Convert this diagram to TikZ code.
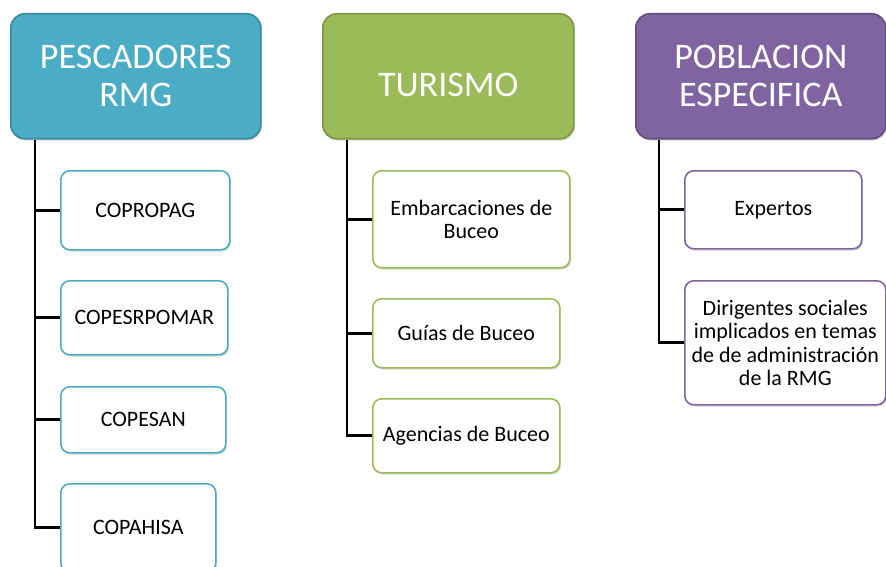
\documentclass[tikz,border=0pt]{standalone}
\usepackage{fontspec}
\setmainfont{Carlito}
\usepackage{tikz}
\usetikzlibrary{shadows,positioning}

\definecolor{rmgaqua}{HTML}{4BACC6}
\definecolor{rmgaquadark}{HTML}{3A8AA0}
\definecolor{rmggreen}{HTML}{9BBB59}
\definecolor{rmggreendark}{HTML}{7A9844}
\definecolor{rmgpurple}{HTML}{8064A2}
\definecolor{rmgpurpledark}{HTML}{634C80}

\begin{document}
\begin{tikzpicture}[x=1pt,y=-1pt]
  \tikzstyle{softshadow}=[drop shadow={opacity=0.3,shadow xshift=1.2pt,shadow yshift=-1.8pt}]
  \tikzstyle{grouphead}=[draw,rounded corners=14pt,line width=1.6pt,anchor=north west,
    minimum width=250pt,minimum height=125pt,text=white,align=center,
    font=\fontsize{36}{38}\selectfont,softshadow]
  \tikzstyle{member}=[draw,fill=white,rounded corners=9pt,line width=1.6pt,anchor=north west,
    inner sep=2pt,align=center,font=\fontsize{22}{23.5}\selectfont,softshadow]
  \tikzstyle{branch}=[line width=2.8pt]

  \useasboundingbox (0,0) rectangle (886,567);

  % group heads
  \node [grouphead,fill=rmgaqua,draw=rmgaquadark] (pescadores) at (10,13) {PESCADORES\\RMG};
  \node [grouphead,fill=rmggreen,draw=rmggreendark,minimum width=251pt] (turismo) at (322,13) {\raisebox{-20.5pt}[0pt][0pt]{TURISMO}};
  \node [grouphead,fill=rmgpurple,draw=rmgpurpledark] (poblacion) at (635,13) {POBLACION\\ESPECIFICA};

  % pescadores
  \node [member,draw=rmgaqua,minimum width=169pt,minimum height=79pt] (copropag) at (60,170) {COPROPAG};
  \node [member,draw=rmgaqua,minimum width=167pt,minimum height=74pt] (copesrpomar) at (60,280) {COPESRPOMAR};
  \node [member,draw=rmgaqua,minimum width=165pt,minimum height=66pt] (copesan) at (60,386) {COPESAN};
  \node [member,draw=rmgaqua,minimum width=155pt,minimum height=88pt] (copahisa) at (60,483) {COPAHISA};

  % turismo
  \node [member,draw=rmggreen,minimum width=197pt,minimum height=97pt] (embarcaciones) at (372,170) {Embarcaciones de\\Buceo};
  \node [member,draw=rmggreen,minimum width=187pt,minimum height=69pt] (guias) at (372,298) {Guías de Buceo};
  \node [member,draw=rmggreen,minimum width=187pt,minimum height=74pt] (agencias) at (372,398) {Agencias de Buceo};

  % poblacion especifica
  \node [member,draw=rmgpurple,minimum width=177pt,minimum height=78pt] (expertos) at (684,170) {Expertos};
  \node [member,draw=rmgpurple,minimum width=201pt,minimum height=124pt] (dirigentes) at (684,280) {Dirigentes sociales\\implicados en temas\\de de administración\\de la RMG};

  % trunks
  \coordinate (pesctrunk) at ([xshift=25pt]pescadores.south west);
  \coordinate (turtrunk) at ([xshift=25pt]turismo.south west);
  \coordinate (pobtrunk) at ([xshift=24pt]poblacion.south west);

  \draw [branch] (pesctrunk) |- (copahisa.west);
  \draw [branch] (pesctrunk |- copropag.west) -- (copropag.west);
  \draw [branch] (pesctrunk |- copesrpomar.west) -- (copesrpomar.west);
  \draw [branch] (pesctrunk |- copesan.west) -- (copesan.west);

  \draw [branch] (turtrunk) |- (agencias.west);
  \draw [branch] (turtrunk |- embarcaciones.west) -- (embarcaciones.west);
  \draw [branch] (turtrunk |- guias.west) -- (guias.west);

  \draw [branch] (pobtrunk) |- (dirigentes.west);
  \draw [branch] (pobtrunk |- expertos.west) -- (expertos.west);
\end{tikzpicture}
\end{document}
